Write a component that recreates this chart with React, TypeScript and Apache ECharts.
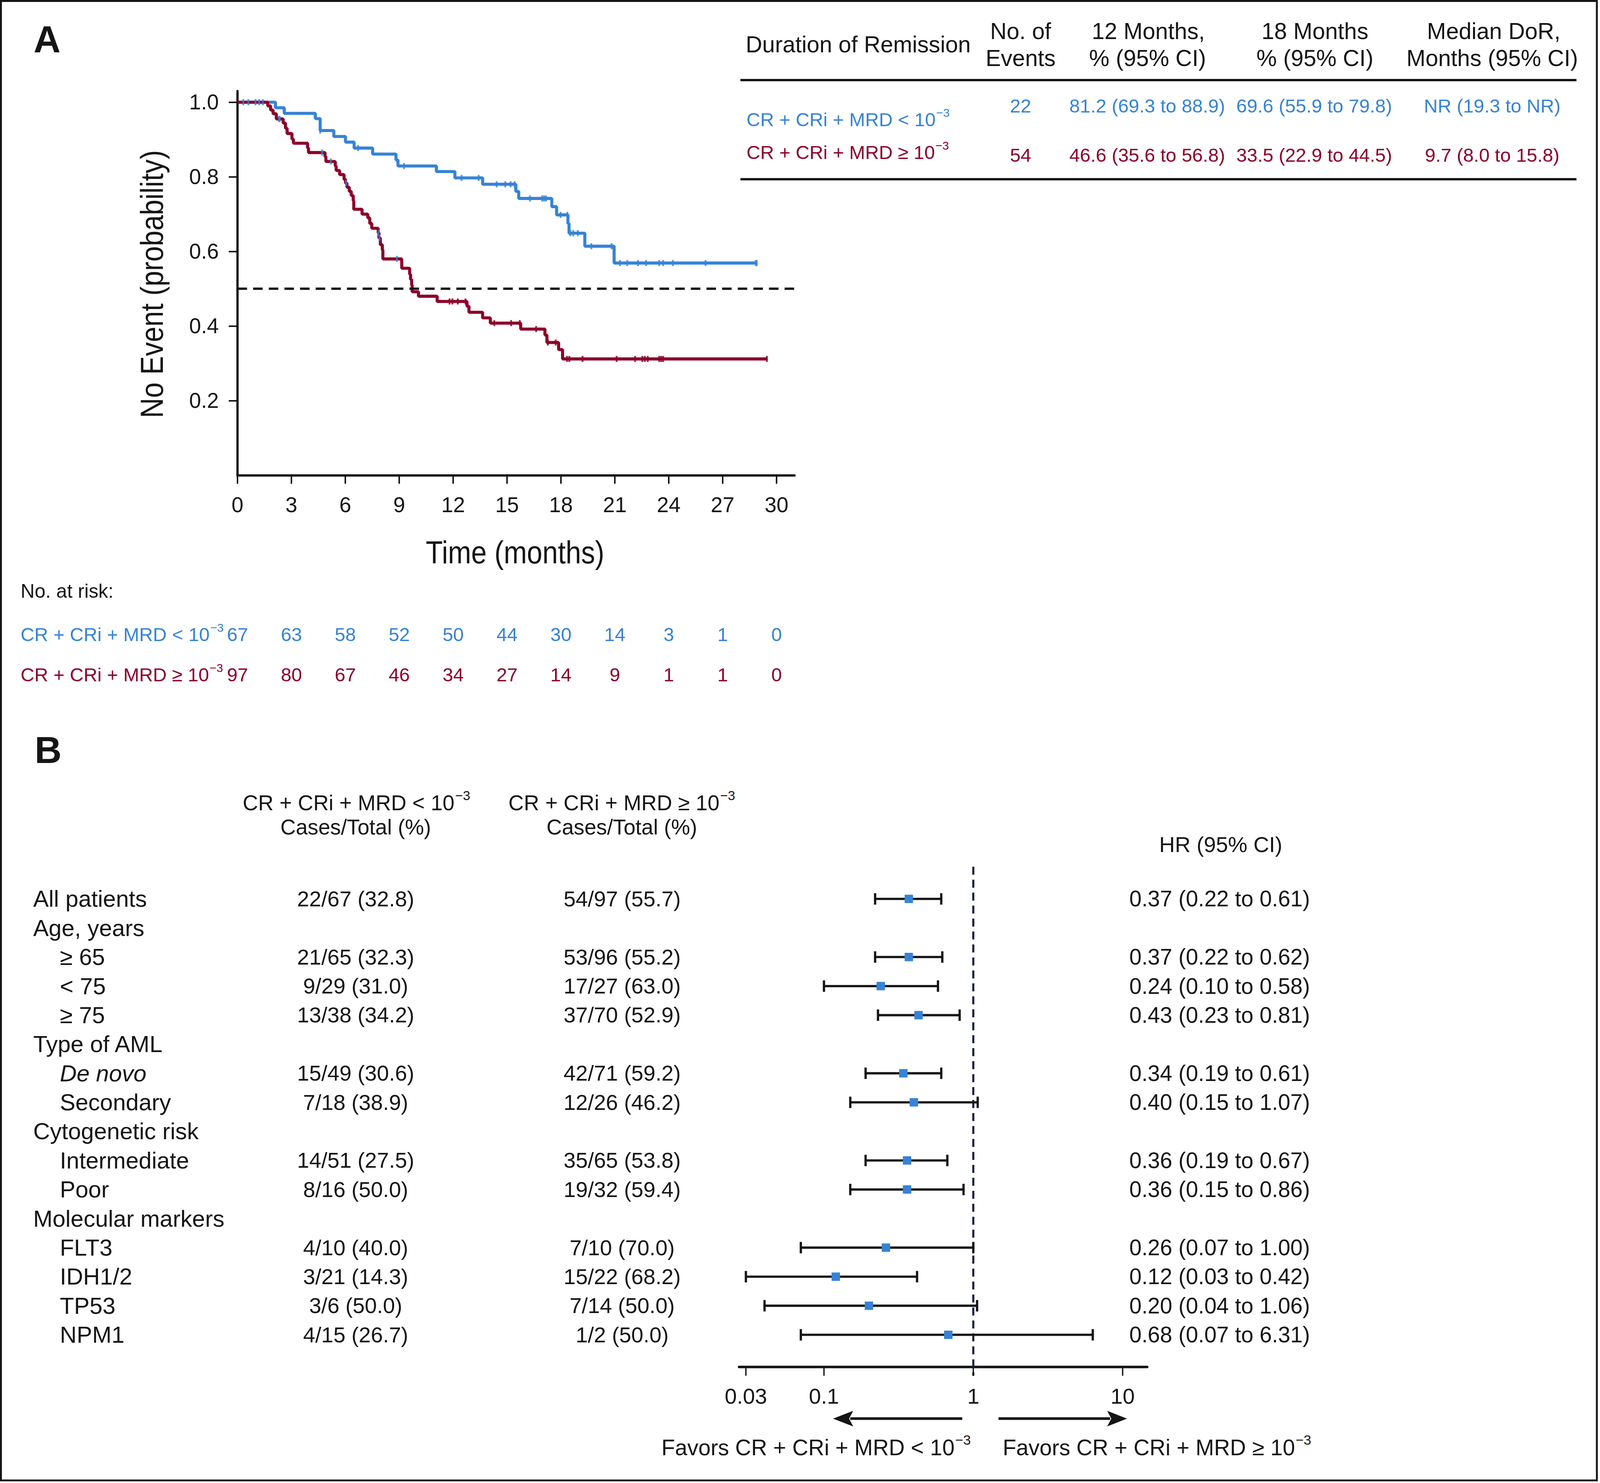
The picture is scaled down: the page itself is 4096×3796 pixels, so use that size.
import React, { useEffect, useRef } from 'react';
import * as echarts from 'echarts';

const S = 0.976;
const s = (v: number) => v * S;
const FONT = "'Liberation Sans', Arial, Helvetica, sans-serif";
const BLUE = '#3683d6';
const RED = '#8c0029';
const INK = '#151515';
const NAVY = '#1c2140';

// ---------- Panel A: Kaplan-Meier ----------
const kmTicks = [0, 3, 6, 9, 12, 15, 18, 21, 24, 27, 30];
const kmYTicks = [0.2, 0.4, 0.6, 0.8, 1.0];

const blueDropTimes = [2.11, 2.6, 4.33, 4.6, 5.36, 6.01, 6.49, 7.52, 8.82, 8.93, 11.07, 12.1, 13.64, 15.49, 15.65, 17.49, 17.76, 18.39, 18.45, 19.33, 20.96];
const blueDropValues = [0.985, 0.97, 0.956, 0.924, 0.908, 0.893, 0.877, 0.861, 0.845, 0.829, 0.814, 0.797, 0.78, 0.761, 0.742, 0.72, 0.698, 0.675, 0.649, 0.614, 0.569];
const blueLastFollowUp = 28.9;

const redDropTimes = [1.68, 1.84, 1.98, 2.16, 2.54, 2.67, 2.76, 3.03, 3.11, 3.9, 3.95, 4.87, 4.92, 5.44, 5.49, 5.68, 5.93, 6.01, 6.09, 6.22, 6.33, 6.44, 6.47, 6.93, 7.25, 7.36, 7.47, 7.83, 7.87, 7.95, 8.06, 8.09, 9.14, 9.58, 9.63, 9.69, 9.72, 10.07, 11.11, 12.77, 12.88, 13.64, 14.07, 15.76, 17.11, 17.22, 17.87, 18.09];
const redDropValues = [0.99, 0.979, 0.969, 0.955, 0.944, 0.93, 0.916, 0.901, 0.89, 0.877, 0.865, 0.854, 0.841, 0.829, 0.817, 0.806, 0.793, 0.783, 0.772, 0.761, 0.75, 0.736, 0.713, 0.7, 0.69, 0.675, 0.662, 0.65, 0.636, 0.618, 0.604, 0.58, 0.555, 0.539, 0.525, 0.51, 0.492, 0.48, 0.466, 0.453, 0.437, 0.422, 0.408, 0.392, 0.376, 0.356, 0.337, 0.312];
const redLastFollowUp = 29.5;

const blueCensorTimes = [0.32, 0.6, 1.0, 1.21, 1.41, 4.6, 6.71, 9.27, 12.47, 13.42, 14.42, 14.9, 15.2, 15.42, 16.28, 16.95, 17.06, 17.17, 17.98, 18.36, 18.52, 18.68, 18.94, 19.69, 20.82, 21.28, 21.69, 22.29, 22.74, 23.47, 23.69, 24.23, 26.05, 28.84, 28.9];
const redCensorTimes = [11.8, 11.96, 12.26, 12.69, 14.29, 15.23, 15.71, 16.62, 17.27, 17.71, 18.34, 18.47, 19.2, 21.1, 22.13, 22.53, 22.67, 22.83, 23.47, 23.58, 23.69, 29.46];
// blue-coloured censor marks that sit on the red curve in the original figure
const blueMarksOnRedTimes = [2.31, 2.35, 4.71, 5.19, 6.04, 7.85, 7.9, 8.87];

const riskTimes = [0, 3, 6, 9, 12, 15, 18, 21, 24, 27, 30];
const blueAtRisk = [67, 63, 58, 52, 50, 44, 30, 14, 3, 1, 0];
const redAtRisk = [97, 80, 67, 46, 34, 27, 14, 9, 1, 1, 0];

const groupLow = 'CR + CRi + MRD < 10';
const groupHigh = 'CR + CRi + MRD \u2265 10';
const groupExp = '\u22123';
const kmEvents = ['22', '54'];
const kmAt12 = ['81.2 (69.3 to 88.9)', '46.6 (35.6 to 56.8)'];
const kmAt18 = ['69.6 (55.9 to 79.8)', '33.5 (22.9 to 44.5)'];
const kmMedian = ['NR (19.3 to NR)', '9.7 (8.0 to 15.8)'];

// ---------- Panel B: forest ----------
const subgroupLabels = ['All patients', 'Age, years', '\u2265 65', '< 75', '\u2265 75', 'Type of AML', 'De novo', 'Secondary', 'Cytogenetic risk', 'Intermediate', 'Poor', 'Molecular markers', 'FLT3', 'IDH1/2', 'TP53', 'NPM1'];
const subgroupLevels = [0, 0, 1, 1, 1, 0, 1, 1, 0, 1, 1, 0, 1, 1, 1, 1];
const casesLow = ['22/67 (32.8)', null, '21/65 (32.3)', '9/29 (31.0)', '13/38 (34.2)', null, '15/49 (30.6)', '7/18 (38.9)', null, '14/51 (27.5)', '8/16 (50.0)', null, '4/10 (40.0)', '3/21 (14.3)', '3/6 (50.0)', '4/15 (26.7)'];
const casesHigh = ['54/97 (55.7)', null, '53/96 (55.2)', '17/27 (63.0)', '37/70 (52.9)', null, '42/71 (59.2)', '12/26 (46.2)', null, '35/65 (53.8)', '19/32 (59.4)', null, '7/10 (70.0)', '15/22 (68.2)', '7/14 (50.0)', '1/2 (50.0)'];
const hrValues = [0.37, null, 0.37, 0.24, 0.43, null, 0.34, 0.4, null, 0.36, 0.36, null, 0.26, 0.12, 0.2, 0.68];
const ciLow = [0.22, null, 0.22, 0.1, 0.23, null, 0.19, 0.15, null, 0.19, 0.15, null, 0.07, 0.03, 0.04, 0.07];
const ciHigh = [0.61, null, 0.62, 0.58, 0.81, null, 0.61, 1.07, null, 0.67, 0.86, null, 1.0, 0.42, 1.06, 6.31];
const forestTicks = [0.03, 0.1, 1, 10];
const ITALIC_LABELS = new Set(['De novo']);

// ---------- helpers ----------
function stepPoints(times: number[], values: number[], end: number) {
  const pts: number[][] = [[0, 1]];
  times.forEach((t, i) => pts.push([t, values[i]]));
  pts.push([end, values[values.length - 1]]);
  return pts;
}
function valueAt(times: number[], values: number[], t: number) {
  let v = 1;
  for (let i = 0; i < times.length; i++) if (times[i] <= t) v = values[i];
  return v;
}

let measureCtx: CanvasRenderingContext2D | null = null;
function fontStr(sizeFull: number, weight = 'normal', italic = false) {
  return `${italic ? 'italic ' : ''}${weight} ${(sizeFull * S).toFixed(2)}px ${FONT}`;
}
function measure(text: string, font: string) {
  if (!measureCtx) measureCtx = document.createElement('canvas').getContext('2d');
  measureCtx!.font = font;
  return measureCtx!.measureText(text).width;
}
type TO = { align?: string; color?: string; weight?: string; italic?: boolean; rotation?: number; scaleX?: number };
function textEl(text: string, X: number, Y: number, sizeFull: number, o: TO = {}) {
  const align = o.align || 'left';
  return {
    type: 'text',
    x: X,
    y: Y,
    rotation: o.rotation || 0,
    scaleX: o.scaleX || 1,
    silent: true,
    style: {
      text,
      font: fontStr(sizeFull, o.weight || 'normal', !!o.italic),
      fill: o.color || INK,
      align,
      textAlign: align,
      verticalAlign: 'middle',
      textVerticalAlign: 'middle',
    },
  };
}
const T = (text: string, x: number, y: number, size: number, o: TO = {}) => textEl(text, s(x), s(y), size, o);
function supEls(main: string, sup: string, X: number, Y: number, sizeFull: number, o: TO = {}) {
  const supSize = sizeFull * 0.62;
  const wm = measure(main, fontStr(sizeFull));
  const ws = measure(sup, fontStr(supSize));
  const gap = sizeFull * S * 0.03;
  const total = wm + gap + ws;
  let left = X;
  if (o.align === 'center') left = X - total / 2;
  else if (o.align === 'right') left = X - total;
  return [
    textEl(main, left, Y, sizeFull, { color: o.color }),
    textEl(sup, left + wm + gap, Y - sizeFull * S * 0.36, supSize, { color: o.color }),
  ];
}
const TS = (main: string, sup: string, x: number, y: number, size: number, o: TO = {}) =>
  supEls(main, sup, s(x), s(y), size, o);
const hrText = (i: number) =>
  `${(hrValues[i] as number).toFixed(2)} (${(ciLow[i] as number).toFixed(2)} to ${(ciHigh[i] as number).toFixed(2)})`;

function buildOption() {
  const axisLabelBase = { color: INK, fontFamily: FONT, fontSize: s(56) };
  const graphics: any[] = [];

  // frame
  graphics.push({ type: 'rect', silent: true, shape: { x: s(2.5), y: s(2.5), width: s(4186), height: s(3880) }, style: { fill: 'none', stroke: INK, lineWidth: s(5) } });
  // panel letters
  graphics.push(T('A', 88, 103, 98, { weight: 'bold' }));
  graphics.push(T('B', 91, 1967, 98, { weight: 'bold' }));
  // KM axis titles
  graphics.push(T('No Event (probability)', 398, 745, 84, { align: 'center', rotation: Math.PI / 2, scaleX: 0.87 }));
  graphics.push(T('Time (months)', 1351, 1448, 84, { align: 'center', scaleX: 0.87 }));

  // KM summary table
  graphics.push(T('Duration of Remission', 1956, 116, 60));
  graphics.push(T('No. of', 2677, 81, 60, { align: 'center' }));
  graphics.push(T('Events', 2677, 152, 60, { align: 'center' }));
  graphics.push(T('12 Months,', 3012, 81, 60, { align: 'center' }));
  graphics.push(T('% (95% CI)', 3010, 152, 60, { align: 'center' }));
  graphics.push(T('18 Months', 3449, 81, 60, { align: 'center' }));
  graphics.push(T('% (95% CI)', 3449, 152, 60, { align: 'center' }));
  graphics.push(T('Median DoR,', 3918, 81, 60, { align: 'center' }));
  graphics.push(T('Months (95% CI)', 3914, 152, 60, { align: 'center' }));
  graphics.push({ type: 'line', silent: true, shape: { x1: s(1942), y1: s(210), x2: s(4135), y2: s(210) }, style: { stroke: INK, lineWidth: s(6) } });
  graphics.push({ type: 'line', silent: true, shape: { x1: s(1942), y1: s(470), x2: s(4135), y2: s(470) }, style: { stroke: INK, lineWidth: s(6) } });
  const tableRowsY = [277.5, 406.5];
  const tableLabelY = [313.5, 400];
  const tableColors = [BLUE, RED];
  [groupLow, groupHigh].forEach((g, i) => {
    graphics.push(...TS(g, groupExp, 1958, tableLabelY[i], 50, { color: tableColors[i] }));
    graphics.push(T(kmEvents[i], 2677, tableRowsY[i], 50, { align: 'center', color: tableColors[i] }));
    graphics.push(T(kmAt12[i], 3009, tableRowsY[i], 50, { align: 'center', color: tableColors[i] }));
    graphics.push(T(kmAt18[i], 3447, tableRowsY[i], 50, { align: 'center', color: tableColors[i] }));
    graphics.push(T(kmMedian[i], 3914, tableRowsY[i], 50, { align: 'center', color: tableColors[i] }));
  });

  // risk table labels
  graphics.push(T('No. at risk:', 54, 1550.5, 51));
  graphics.push(...TS(groupLow, groupExp, 54, 1663.5, 50, { color: BLUE }));
  graphics.push(...TS(groupHigh, groupExp, 54, 1769.5, 50, { color: RED }));

  // forest headers
  graphics.push(...TS(groupLow, groupExp, 935, 2106, 56, { align: 'center' }));
  graphics.push(T('Cases/Total (%)', 933, 2170, 56, { align: 'center' }));
  graphics.push(...TS(groupHigh, groupExp, 1631, 2106, 56, { align: 'center' }));
  graphics.push(T('Cases/Total (%)', 1631, 2170, 56, { align: 'center' }));
  graphics.push(T('HR (95% CI)', 3202, 2215, 57, { align: 'center' }));

  // arrows + favours text
  graphics.push({ type: 'line', silent: true, shape: { x1: s(2524), y1: s(3720.5), x2: s(2230), y2: s(3720.5) }, style: { stroke: INK, lineWidth: s(7) } });
  graphics.push({ type: 'polygon', silent: true, shape: { points: [[s(2185), s(3720.5)], [s(2238), s(3700)], [s(2227), s(3720.5)], [s(2238), s(3741)]] }, style: { fill: INK } });
  graphics.push({ type: 'line', silent: true, shape: { x1: s(2619), y1: s(3720.5), x2: s(2912), y2: s(3720.5) }, style: { stroke: INK, lineWidth: s(7) } });
  graphics.push({ type: 'polygon', silent: true, shape: { points: [[s(2956), s(3720.5)], [s(2904), s(3700)], [s(2915), s(3720.5)], [s(2904), s(3741)]] }, style: { fill: INK } });
  graphics.push(...TS('Favors ' + groupLow, groupExp, 1735, 3797, 58));
  graphics.push(...TS('Favors ' + groupHigh, groupExp, 2630, 3797, 58));

  const censor = (times: number[], dt: number[], dv: number[]) => times.map((t) => [t, valueAt(dt, dv, t)]);
  const censorSymbol = [s(5), s(16)];

  const forestRows = subgroupLabels.map((_, i) => i);
  const forestData = forestRows.filter((i) => hrValues[i] != null).map((i) => [hrValues[i], i, ciLow[i], ciHigh[i]]);

  return {
    animation: false,
    backgroundColor: '#ffffff',
    grid: [
      { left: s(623), top: s(238.6), width: s(1461), height: s(1008.1) },
      { left: s(1938.5), top: s(2319.4), width: s(1070.5), height: s(1219.4) },
    ],
    xAxis: [
      {
        gridIndex: 0, type: 'value', min: 0, max: 31,
        axisLine: { show: true, onZero: false, lineStyle: { color: INK, width: s(6) } },
        axisTick: { show: true, length: s(22), lineStyle: { color: INK, width: s(4) }, customValues: kmTicks },
        axisLabel: { show: true, customValues: kmTicks, margin: s(77.5), verticalAlign: 'middle', ...axisLabelBase },
        splitLine: { show: false },
      },
      {
        gridIndex: 1, type: 'log', logBase: 10, min: 0.027, max: 14.6, position: 'bottom', offset: s(46.2),
        axisLine: { show: true, onZero: false, lineStyle: { color: INK, width: s(6.5) } },
        axisTick: { show: false }, axisLabel: { show: false }, splitLine: { show: false },
        minorTick: { show: false }, minorSplitLine: { show: false },
      },
    ],
    yAxis: [
      {
        gridIndex: 0, type: 'value', min: 0, max: 1.03,
        axisLine: { show: true, onZero: false, lineStyle: { color: INK, width: s(6) } },
        axisTick: { show: true, length: s(23), lineStyle: { color: INK, width: s(4) }, customValues: kmYTicks },
        axisLabel: { show: true, customValues: kmYTicks, margin: s(49), formatter: (v: number) => v.toFixed(1), ...axisLabelBase },
        splitLine: { show: false },
      },
      {
        gridIndex: 1, type: 'category', data: forestRows.map(String), inverse: true, show: false,
      },
    ],
    graphic: { elements: graphics },
    series: [
      {
        type: 'line', name: groupLow, xAxisIndex: 0, yAxisIndex: 0, step: 'end', showSymbol: false, symbol: 'none', silent: true,
        data: stepPoints(blueDropTimes, blueDropValues, blueLastFollowUp),
        lineStyle: { color: BLUE, width: s(8) }, z: 3,
        markLine: {
          silent: true, symbol: ['none', 'none'], label: { show: false },
          lineStyle: { type: [s(25), s(16)], color: INK, width: s(6) },
          data: [{ yAxis: 0.5 }],
        },
      },
      {
        type: 'line', name: groupHigh, xAxisIndex: 0, yAxisIndex: 0, step: 'end', showSymbol: false, symbol: 'none', silent: true,
        data: stepPoints(redDropTimes, redDropValues, redLastFollowUp),
        lineStyle: { color: RED, width: s(8) }, z: 4,
      },
      {
        type: 'scatter', xAxisIndex: 0, yAxisIndex: 0, silent: true, symbol: 'rect', symbolSize: censorSymbol,
        itemStyle: { color: RED }, data: censor(redCensorTimes, redDropTimes, redDropValues), z: 5,
      },
      {
        type: 'scatter', xAxisIndex: 0, yAxisIndex: 0, silent: true, symbol: 'rect', symbolSize: censorSymbol,
        itemStyle: { color: BLUE }, data: censor(blueCensorTimes, blueDropTimes, blueDropValues), z: 6,
      },
      {
        type: 'scatter', xAxisIndex: 0, yAxisIndex: 0, silent: true, symbol: 'rect', symbolSize: censorSymbol,
        itemStyle: { color: BLUE }, data: censor(blueMarksOnRedTimes, redDropTimes, redDropValues), z: 6,
      },
      {
        type: 'custom', xAxisIndex: 0, yAxisIndex: 0, silent: true, clip: false,
        data: riskTimes.map((t, i) => [t, 0, i]),
        renderItem: (_p: any, api: any) => {
          const x = api.coord([api.value(0), 0])[0];
          const i = api.value(2);
          return {
            type: 'group',
            children: [
              textEl(String(blueAtRisk[i]), x, s(1663.5), 50, { align: 'center', color: BLUE }),
              textEl(String(redAtRisk[i]), x, s(1769.5), 50, { align: 'center', color: RED }),
            ],
          };
        },
      },
      // reference line at HR = 1
      {
        type: 'custom', xAxisIndex: 1, yAxisIndex: 1, silent: true, clip: false, z: 2,
        data: [[1, 0]],
        renderItem: (_p: any, api: any) => {
          const x = api.coord([1, 0])[0];
          return {
            type: 'line',
            shape: { x1: x, y1: s(2273), x2: x, y2: s(3608) },
            style: { stroke: NAVY, lineWidth: s(5.5), lineDash: [s(21), s(13)] },
          };
        },
      },
      // forest ticks + labels
      {
        type: 'custom', xAxisIndex: 1, yAxisIndex: 1, silent: true, clip: false,
        data: forestTicks.map((v) => [v, 0]),
        renderItem: (_p: any, api: any) => {
          const v = api.value(0);
          const x = api.coord([v, 0])[0];
          return {
            type: 'group',
            children: [
              { type: 'line', shape: { x1: x, y1: s(3587), x2: x, y2: s(3608) }, style: { stroke: INK, lineWidth: s(3.5) } },
              textEl(String(v), x, s(3662), 57, { align: 'center' }),
            ],
          };
        },
      },
      // whiskers + squares
      {
        type: 'custom', xAxisIndex: 1, yAxisIndex: 1, silent: true, clip: false, z: 4,
        data: forestData,
        renderItem: (_p: any, api: any) => {
          const row = api.value(1);
          const c = api.coord([api.value(0), row]);
          const lo = api.coord([api.value(2), row]);
          const hi = api.coord([api.value(3), row]);
          const cap = s(30) / 2;
          const sq = s(22);
          const lw = s(6);
          return {
            type: 'group',
            children: [
              { type: 'line', shape: { x1: lo[0], y1: c[1], x2: hi[0], y2: c[1] }, style: { stroke: INK, lineWidth: lw } },
              { type: 'line', shape: { x1: lo[0], y1: c[1] - cap, x2: lo[0], y2: c[1] + cap }, style: { stroke: INK, lineWidth: lw } },
              { type: 'line', shape: { x1: hi[0], y1: c[1] - cap, x2: hi[0], y2: c[1] + cap }, style: { stroke: INK, lineWidth: lw } },
              { type: 'rect', shape: { x: c[0] - sq / 2, y: c[1] - sq / 2, width: sq, height: sq }, style: { fill: BLUE } },
            ],
          };
        },
      },
      // row texts
      {
        type: 'custom', xAxisIndex: 1, yAxisIndex: 1, silent: true, clip: false,
        data: forestRows.map((i) => [1, i]),
        renderItem: (_p: any, api: any) => {
          const i = api.value(1);
          const y = api.coord([1, i])[1];
          const label = subgroupLabels[i];
          const children: any[] = [
            textEl(label, subgroupLevels[i] === 0 ? s(87) : s(157), y, 61, { italic: ITALIC_LABELS.has(label) }),
          ];
          if (casesLow[i]) children.push(textEl(casesLow[i] as string, s(933), y, 57, { align: 'center' }));
          if (casesHigh[i]) children.push(textEl(casesHigh[i] as string, s(1632), y, 57, { align: 'center' }));
          if (hrValues[i] != null) children.push(textEl(hrText(i), s(2962), y, 58));
          return { type: 'group', children };
        },
      },
    ],
  };
}

export default function App() {
  const ref = useRef<HTMLDivElement>(null);
  useEffect(() => {
    const el = ref.current as HTMLDivElement;
    const chart = echarts.init(el, undefined, { renderer: 'svg', width: 4096, height: 3796 });
    chart.setOption(buildOption() as any);
    return () => chart.dispose();
  }, []);
  return (
    <div
      ref={ref}
      style={{ position: 'fixed', left: 0, top: 0, width: 4096, height: 3796, background: '#ffffff' }}
    />
  );
}
